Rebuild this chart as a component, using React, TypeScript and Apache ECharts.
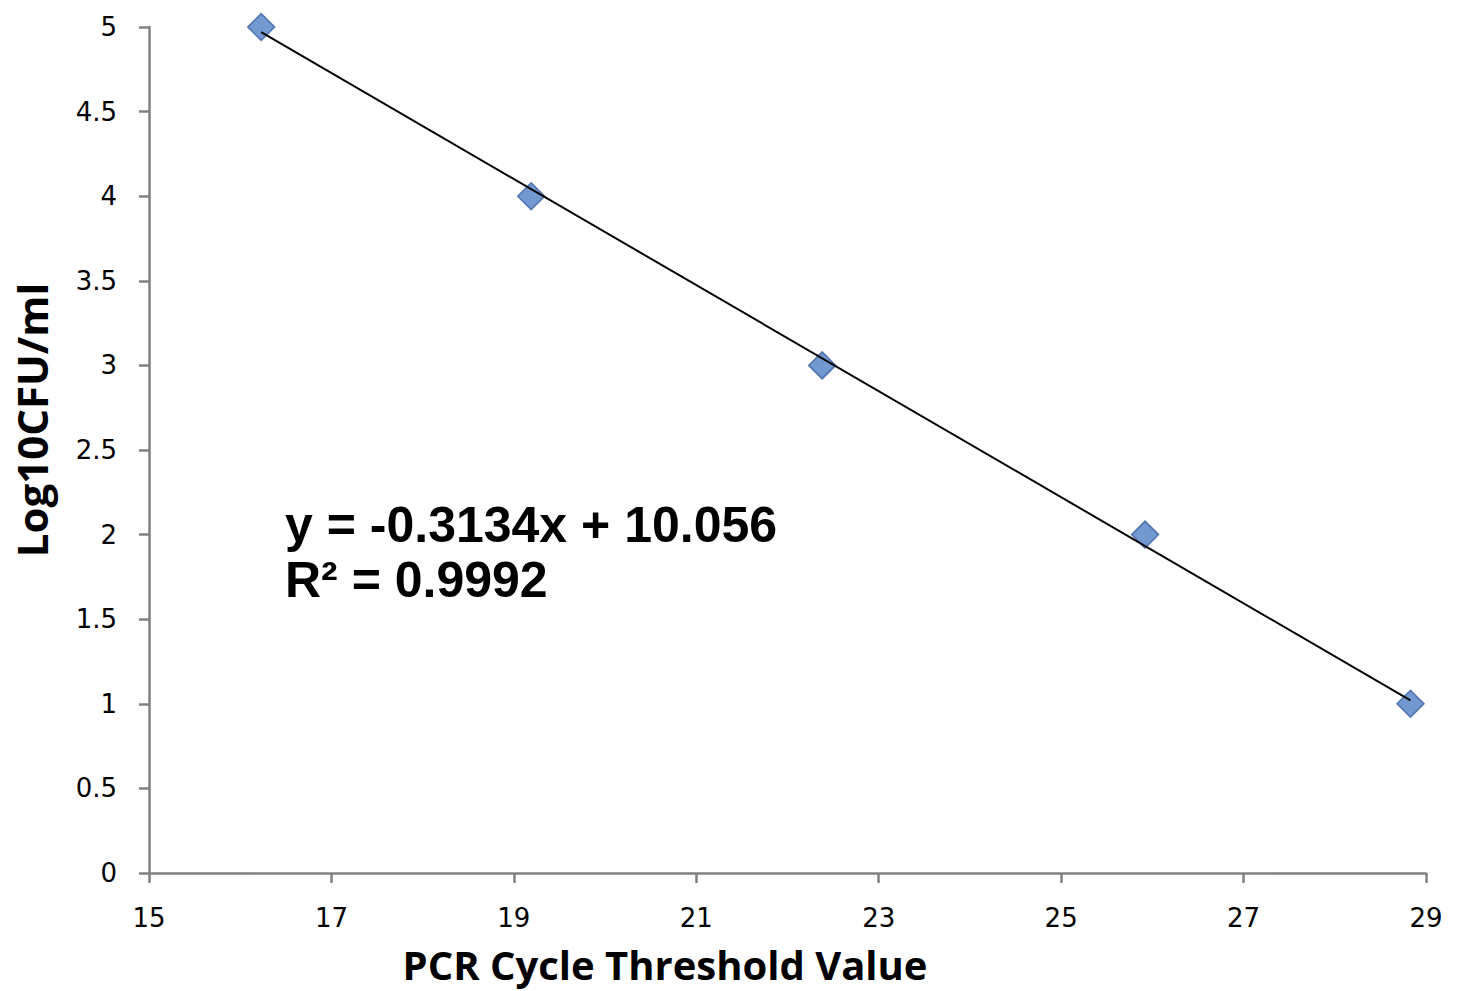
import React, { useEffect, useRef } from "react";
import * as echarts from "echarts";

const ctValues = [16.23, 19.19, 22.38, 25.92, 28.83];
const logCfu = [5, 4, 3, 2, 1];
const slope = -0.3134;
const intercept = 10.056;
const equationLines = ["y = -0.3134x + 10.056", "R² = 0.9992"];
const xTitle = "PCR Cycle Threshold Value";
const yTitle = "Log10CFU/ml";

export default function App() {
  const ref = useRef<HTMLDivElement>(null);
  useEffect(() => {
    const chart = echarts.init(ref.current!, null, { renderer: "svg" });
    const xMin = Math.min(...ctValues);
    const xMax = Math.max(...ctValues);
    const trend = [
      [xMin, slope * xMin + intercept],
      [xMax, slope * xMax + intercept],
    ];
    const axisLine = { show: true, lineStyle: { color: "#808080", width: 2.5 } };
    const axisTick = { show: true, length: 10, inside: false, lineStyle: { color: "#808080", width: 2.5 } };
    const labelStyle = { color: "#000", fontSize: 26, fontFamily: "DejaVu Sans" };
    chart.setOption({
      animation: false,
      backgroundColor: "#ffffff",
      grid: {
        left: 149,
        right: 35,
        top: 27,
        bottom: 118,
        containLabel: false,
        outerBoundsMode: "none",
      },
      xAxis: {
        type: "value",
        min: 15,
        max: 29,
        interval: 2,
        axisLine,
        axisTick,
        splitLine: { show: false },
        axisLabel: { ...labelStyle, margin: 32 },
      },
      yAxis: {
        type: "value",
        min: 0,
        max: 5,
        interval: 0.5,
        axisLine,
        axisTick,
        splitLine: { show: false },
        axisLabel: { ...labelStyle, margin: 32 },
      },
      series: [
        {
          type: "scatter",
          data: ctValues.map((x, i) => [x, logCfu[i]]),
          symbol: "diamond",
          symbolSize: 27,
          itemStyle: { color: "#4f81c6", borderColor: "#3a5ea0", borderWidth: 1.5 },
          z: 2,
        },
        {
          type: "line",
          data: trend,
          symbol: "none",
          lineStyle: { color: "#000", width: 2 },
          z: 3,
        },
      ],
      graphic: [
        {
          type: "text",
          left: 285,
          top: 497,
          style: {
            text: equationLines.join("\n"),
            font: "bold 50px 'Liberation Sans', Arial, sans-serif",
            lineHeight: 55,
            fill: "#000",
          },
        },
        {
          type: "text",
          x: 665,
          y: 964,
          style: {
            text: xTitle,
            font: "bold 40px 'Open Sans', sans-serif",
            fill: "#000",
            align: "center",
            verticalAlign: "middle",
          },
        },
        {
          type: "text",
          x: 31,
          y: 420,
          rotation: Math.PI / 2,
          style: {
            text: yTitle,
            font: "bold 42px 'Open Sans', sans-serif",
            fill: "#000",
            align: "center",
            verticalAlign: "middle",
          },
        },
      ],
    });
    return () => chart.dispose();
  }, []);
  return <div ref={ref} style={{ width: 1461, height: 991, position: "absolute", left: 0, top: 0 }} />;
}
